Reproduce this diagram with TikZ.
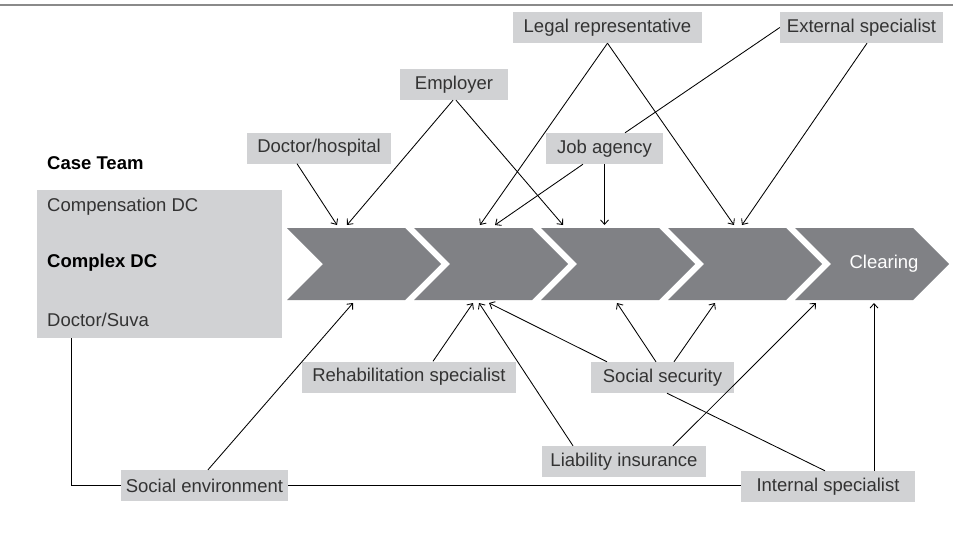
\documentclass[tikz,border=0pt]{standalone}
\usepackage{fontspec}
\setmainfont{Liberation Sans}
\usetikzlibrary{arrows.meta}
\definecolor{boxgray}{HTML}{D1D2D4}
\definecolor{chevgray}{HTML}{808185}
\definecolor{txt}{HTML}{333333}
\definecolor{rulegray}{HTML}{8A8A8A}
\begin{document}
\begin{tikzpicture}[x=1pt,y=-1pt,
  lbl/.style={fill=boxgray, text=txt, inner sep=0pt, minimum height=31pt,
              font=\fontsize{18.5}{22}\selectfont},
  plain/.style={font=\fontsize{18.5}{22}\selectfont, text=txt, inner sep=0pt, anchor=west},
  conn/.style={draw=black, line width=0.85pt},
  arr/.style={conn, -{Straight Barb[length=4.5pt,width=8pt,line width=0.85pt]}}]
\useasboundingbox[fill=white] (0,0) rectangle (953,552);
\draw[rulegray, line width=1.6pt] (0,5) -- (953,5);

% chevrons
\foreach \L in {287,414,541,668,795}
  \fill[chevgray] (\L,228) -- ++(118,0) -- ++(36,36) -- ++(-36,36) -- ++(-118,0) -- ++(36,-36) -- cycle;
\node[text=white, font=\fontsize{18.5}{22}\selectfont, inner sep=0pt] (clr) at (884,264) {Clearing};

% case team
\node[plain, text=black, font=\fontsize{18.5}{22}\selectfont\bfseries] (ct) at (47,163) {Case Team};
\node[fill=boxgray, minimum width=245pt, minimum height=148pt, inner sep=0pt, anchor=north west] (casebox) at (37,190) {};
\node[plain] (comp) at (47,207) {Compensation DC};
\node[plain, text=black, font=\fontsize{18.5}{22}\selectfont\bfseries] (cplx) at (47,263) {Complex DC};
\node[plain] (dsuva) at (47,320) {Doctor/Suva};

% labels
\node[lbl, minimum width=189pt] (legal) at (607.5,27.5) {Legal representative};
\node[lbl, minimum width=163pt] (ext) at (861.5,27.5) {External specialist};
\node[lbl, minimum width=108pt] (employer) at (454,84.5) {Employer};
\node[lbl, minimum width=144pt] (dochosp) at (319,148) {Doctor/hospital};
\node[lbl, minimum width=117pt] (job) at (604.5,148.5) {Job agency};
\node[lbl, minimum width=214pt] (rehab) at (409,377) {Rehabilitation specialist};
\node[lbl, minimum width=143pt] (socsec) at (662.5,377.5) {Social security};
\node[lbl, minimum width=164pt] (liab) at (624,461.5) {Liability insurance};
\node[lbl, minimum width=174pt] (internal) at (828,486.5) {Internal specialist};
\node[lbl, minimum width=167pt] (socenv) at (204.5,485.5) {Social environment};

% arrow tips on the chevrons
\coordinate (a1) at (337,225);
\coordinate (a2) at (347,225);
\coordinate (a3) at (563,225);
\coordinate (a4) at (480,225);
\coordinate (a5) at (734,225);
\coordinate (a7) at (495,225);
\coordinate (a8) at (604.5,225);
\coordinate (a9) at (742,225);
\coordinate (b1) at (353,303);
\coordinate (b2) at (473,303);
\coordinate (b3) at (479,303);
\coordinate (b4) at (489,303);
\coordinate (b5) at (617,303);
\coordinate (b6) at (715,303);
\coordinate (b7) at (816,303);
\coordinate (b8) at (874,303);

% top connectors
\draw[arr] ([xshift=-22pt]dochosp.south) -- (a1);
\draw[arr] ([xshift=-1pt]employer.south) -- (a2);
\draw[arr] ([xshift=2pt]employer.south) -- (a3);
\draw[arr] (legal.south) -- (a4);
\draw[arr] (legal.south) -- (a5);
\draw[conn] (ext.west) -- ([xshift=20.5pt]job.north);
\draw[arr] ([xshift=-21.5pt]job.south) -- (a7);
\draw[arr] (job.south) -- (a8);
\draw[arr] ([xshift=5.5pt]ext.south) -- (a9);

% bottom connectors
\draw[arr] ([xshift=3.5pt]socenv.north) -- (b1);
\draw[arr] ([xshift=24pt]rehab.north) -- (b2);
\draw[arr] ([xshift=-51pt]liab.north) -- (b3);
\draw[arr] ([xshift=-55.5pt]socsec.north) -- (b4);
\draw[arr] ([xshift=-6.5pt]socsec.north) -- (b5);
\draw[arr] ([xshift=11.5pt]socsec.north) -- (b6);
\draw[arr] ([xshift=49pt]liab.north) -- (b7);
\draw[conn] ([xshift=4.5pt]socsec.south) -- ([xshift=-3pt]internal.north);
\draw[arr] ([xshift=46pt]internal.north) -- (b8);
\draw[conn] ([xshift=34pt]casebox.south west) |- (socenv.west);
\draw[conn] (socenv.east) -- (socenv.east -| internal.west);
\end{tikzpicture}
\end{document}
